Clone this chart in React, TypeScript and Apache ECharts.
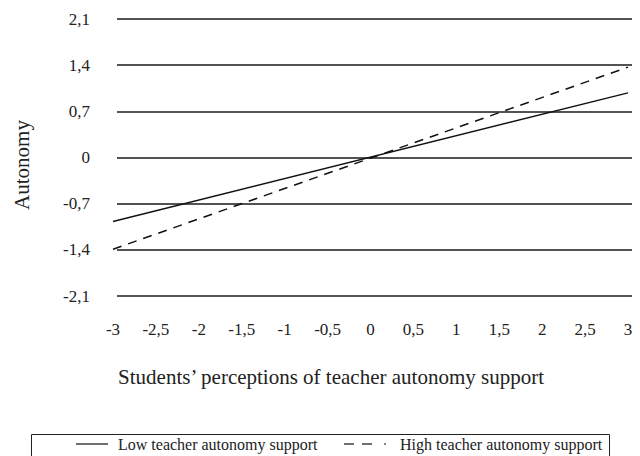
import React, { useEffect, useRef } from "react";
import * as echarts from "echarts";

const xTicks = [-3, -2.5, -2, -1.5, -1, -0.5, 0, 0.5, 1, 1.5, 2, 2.5, 3];
const yTicks = [-2.1, -1.4, -0.7, 0, 0.7, 1.4, 2.1];
const xEnds = [-3, 3];
const lowValues = [-0.97, 0.98];
const highValues = [-1.39, 1.37];
const seriesNames = ["Low teacher autonomy support", "High teacher autonomy support"];
const xTitle = "Students’ perceptions of teacher autonomy support";
const yTitle = "Autonomy";

const FONT = "'Liberation Serif', 'DejaVu Serif', serif";

const fmt = (v: number) => {
  if (Math.abs(v) < 1e-9) return "0";
  const r = Math.round(v * 10) / 10;
  return String(r).replace(".", ",");
};

export default function App() {
  const ref = useRef<HTMLDivElement>(null);
  useEffect(() => {
    document.body.style.margin = "0";
    const chart = echarts.init(ref.current!, null, { renderer: "svg" });
    const lowData = xEnds.map((x, i) => [x, lowValues[i]]);
    const highData = xEnds.map((x, i) => [x, highValues[i]]);
    const legendY = 444;
    const top = 19;
    const bottom = 456 - 296;
    chart.setOption({
      animation: false,
      backgroundColor: "#ffffff",
      grid: [
        { left: 117, right: 8, top, bottom },
        { left: 113, right: 12, top, bottom },
      ],
      xAxis: [
        {
          gridIndex: 0,
          type: "value",
          min: -3,
          max: 3,
          show: false,
        },
        {
          gridIndex: 1,
          type: "value",
          min: xTicks[0],
          max: xTicks[xTicks.length - 1],
          interval: 0.5,
          axisLine: { show: false },
          axisTick: { show: false },
          splitLine: { show: false },
          axisLabel: {
            formatter: fmt,
            margin: 25,
            fontFamily: FONT,
            fontSize: 17,
            color: "#222",
          },
        },
      ],
      yAxis: [
        {
          gridIndex: 0,
          type: "value",
          min: yTicks[0],
          max: yTicks[yTicks.length - 1],
          interval: 0.7,
          axisLine: { show: false },
          axisTick: { show: false },
          splitLine: { show: true, lineStyle: { color: "#1a1a1a", width: 1.5 } },
          axisLabel: {
            formatter: fmt,
            margin: 27,
            fontFamily: FONT,
            fontSize: 17,
            color: "#222",
          },
        },
        {
          gridIndex: 1,
          type: "value",
          min: yTicks[0],
          max: yTicks[yTicks.length - 1],
          show: false,
          splitLine: { show: false },
        },
      ],
      series: [
        {
          name: seriesNames[0],
          type: "line",
          xAxisIndex: 1,
          yAxisIndex: 1,
          data: lowData,
          showSymbol: false,
          lineStyle: { color: "#111", width: 1.5, type: "solid" },
        },
        {
          name: seriesNames[1],
          type: "line",
          xAxisIndex: 1,
          yAxisIndex: 1,
          data: highData,
          showSymbol: false,
          lineStyle: { color: "#111", width: 1.5, type: [9, 7] },
        },
      ],
      graphic: [
        {
          type: "text",
          x: 22,
          y: 165,
          rotation: Math.PI / 2,
          style: {
            text: yTitle,
            fontFamily: FONT,
            fontSize: 21,
            fill: "#222",
            align: "center",
            verticalAlign: "middle",
          },
          silent: true,
          z: 10,
        },
        {
          type: "text",
          x: 331,
          y: 377,
          style: {
            text: xTitle,
            fontFamily: FONT,
            fontSize: 21,
            fill: "#222",
            align: "center",
            verticalAlign: "middle",
          },
        },
        {
          type: "rect",
          shape: { x: 31.5, y: 434.5, width: 578, height: 24 },
          style: { fill: "none", stroke: "#222", lineWidth: 1 },
        },
        {
          type: "line",
          shape: { x1: 76, y1: legendY, x2: 108, y2: legendY },
          style: { stroke: "#111", lineWidth: 1.2 },
        },
        {
          type: "text",
          x: 118,
          y: legendY,
          style: {
            text: seriesNames[0],
            fontFamily: FONT,
            fontSize: 16,
            fill: "#222",
            verticalAlign: "middle",
          },
        },
        {
          type: "line",
          shape: { x1: 344, y1: legendY, x2: 354, y2: legendY },
          style: { stroke: "#111", lineWidth: 1.2 },
        },
        {
          type: "line",
          shape: { x1: 362, y1: legendY, x2: 372, y2: legendY },
          style: { stroke: "#111", lineWidth: 1.2 },
        },
        {
          type: "line",
          shape: { x1: 384, y1: legendY, x2: 386, y2: legendY },
          style: { stroke: "#111", lineWidth: 1.2 },
        },
        {
          type: "text",
          x: 400,
          y: legendY,
          style: {
            text: seriesNames[1],
            fontFamily: FONT,
            fontSize: 16,
            fill: "#222",
            verticalAlign: "middle",
          },
        },
      ],
    });
    return () => chart.dispose();
  }, []);
  return <div ref={ref} style={{ width: 640, height: 456 }} />;
}
